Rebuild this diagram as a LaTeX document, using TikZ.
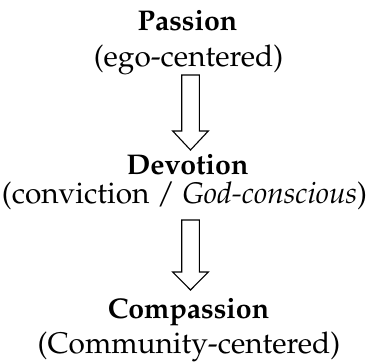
\documentclass[tikz,border=0pt]{standalone}
\usepackage[T1]{fontenc}
\usepackage{mathpazo}
\usetikzlibrary{calc}
\tikzset{
  lbl/.style={anchor=base, inner sep=0pt, font=\fontsize{29.8}{34}\selectfont},
  hdr/.style={lbl, font=\fontsize{28.5}{34}\selectfont\bfseries},
  blockarrow/.style={draw=black, line width=1.1pt, fill=white, line join=miter}
}
\begin{document}
\begin{tikzpicture}[x=1pt,y=1pt]
\useasboundingbox (0,0) rectangle (369,-362);
\node[hdr] (passion) at (187.5,-30) {Passion};
\node[lbl] (ego) at (188.5,-66.5) {(ego-centered)};
\node[hdr] (devotion) at (187.5,-174) {Devotion};
\node[lbl] (conv) at (184.5,-203.5) {(conviction / \textit{God-conscious})};
\node[hdr] (compassion) at (188.5,-318.5) {Compassion};
\node[lbl] (comm) at (189,-353) {(Community-centered)};
\coordinate (a1s) at (190.5,-75);
\coordinate (a1e) at (190.5,-150);
\coordinate (a2s) at (190.5,-220);
\coordinate (a2e) at (190.5,-290);
\draw[blockarrow] ($(a1s)+(-8.8,0)$) -- ($(a1s)+(8.8,0)$) -- ($(a1e)+(8.8,19)$) -- ($(a1e)+(17.8,19)$) -- (a1e) -- ($(a1e)+(-17.8,19)$) -- ($(a1e)+(-8.8,19)$) -- cycle;
\draw[blockarrow] ($(a2s)+(-8.8,0)$) -- ($(a2s)+(8.8,0)$) -- ($(a2e)+(8.8,18)$) -- ($(a2e)+(17.8,18)$) -- (a2e) -- ($(a2e)+(-17.8,18)$) -- ($(a2e)+(-8.8,18)$) -- cycle;
\end{tikzpicture}
\end{document}
